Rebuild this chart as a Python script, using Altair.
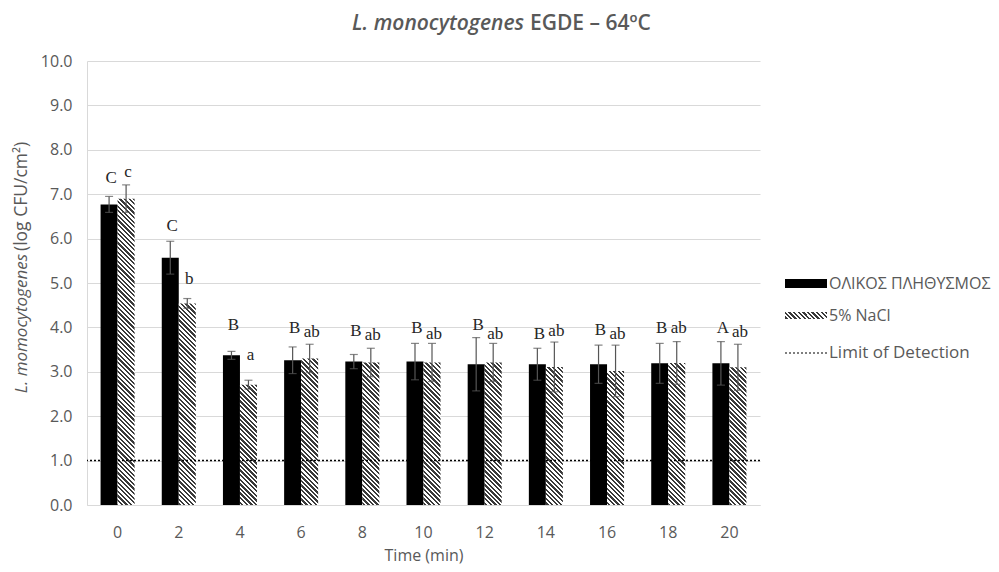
import altair as alt
import pandas as pd

# ---------------- data ----------------
times = [0, 2, 4, 6, 8, 10, 12, 14, 16, 18, 20]
total_mean = [6.77, 5.57, 3.37, 3.26, 3.23, 3.23, 3.17, 3.17, 3.17, 3.19, 3.19]
total_sd = [0.18, 0.37, 0.09, 0.30, 0.16, 0.41, 0.60, 0.36, 0.43, 0.45, 0.49]
nacl_mean = [6.90, 4.54, 2.71, 3.30, 3.21, 3.21, 3.21, 3.11, 3.02, 3.20, 3.10]
nacl_sd = [0.31, 0.11, 0.10, 0.32, 0.32, 0.43, 0.43, 0.56, 0.58, 0.48, 0.52]
total_letters = ["C", "C", "B", "B", "B", "B", "B", "B", "B", "B", "A"]
nacl_letters = ["c", "b", "a", "ab", "ab", "ab", "ab", "ab", "ab", "ab", "ab"]
total_label_y = [7.36, 6.28, 4.05, 3.99, 3.92, 3.98, 4.05, 3.86, 3.95, 3.99, 3.99]
nacl_label_y = [7.49, 5.08, 3.38, 3.89, 3.83, 3.86, 3.86, 3.92, 3.86, 3.98, 3.89]
lod_value = [1.0]
series_names = ["ΟΛΙΚΟΣ ΠΛΗΘΥΣΜΟΣ", "5% NaCl", "Limit of Detection"]

# ---------------- layout ----------------
W, H = 673, 444
Y_MAX = 10.0
P_IN, P_OUT = 0.444, 0.222
FONT = "Open Sans"
GREY = "#595959"
GRID = "#d9d9d9"

rows = []
for i, t in enumerate(times):
    rows.append(dict(time=t, series="total", mean=total_mean[i],
                     lo=total_mean[i] - total_sd[i], hi=total_mean[i] + total_sd[i],
                     letter=total_letters[i], ly=total_label_y[i]))
    rows.append(dict(time=t, series="nacl", mean=nacl_mean[i],
                     lo=nacl_mean[i] - nacl_sd[i], hi=nacl_mean[i] + nacl_sd[i],
                     letter=nacl_letters[i], ly=nacl_label_y[i]))
df = pd.DataFrame(rows)

step = W / len(times)
sub_w = step * (1 - P_IN) / 2


def hatch(w, h, period=4.6, dark="#3a3a3a", light="#ffffff"):
    """Diagonal '\\' stripes via a sharp-stop linear gradient (bbox units)."""
    L = w + h
    k = L / (w * w + h * h)
    x1, y1 = 1.0, 0.0
    x2, y2 = 1 - k * w, k * h
    n = int(L / period) + 1
    stops = []
    for j in range(n):
        a = min(j * period / L, 1.0)
        b = min((j + 0.5) * period / L, 1.0)
        c = min((j + 1) * period / L, 1.0)
        stops += [
            {"offset": a, "color": dark},
            {"offset": b, "color": dark},
            {"offset": b, "color": light},
            {"offset": c, "color": light},
        ]
    return alt.LinearGradient(gradient="linear", stops=stops, x1=x1, y1=y1, x2=x2, y2=y2)


x_enc = alt.X(
    "time:O",
    scale=alt.Scale(paddingInner=P_IN, paddingOuter=P_OUT),
    axis=alt.Axis(title="Time (min)", labelAngle=0, ticks=False, grid=False,
                  domainColor=GRID, labelPadding=19, titleY=50, titleBaseline="middle",
                  titleFontWeight="normal"),
)
xo_enc = alt.XOffset("series:N",
                     scale=alt.Scale(domain=["total", "nacl"], paddingInner=0, paddingOuter=0))
y_scale = alt.Scale(domain=[0, Y_MAX], nice=False)
y_enc = alt.Y("mean:Q", scale=y_scale,
              axis=alt.Axis(values=list(range(11)), format=".1f", title="", ticks=False,
                            grid=True, gridColor=GRID, domainColor=GRID, labelPadding=15))

layers = []

# black bars
layers.append(
    alt.Chart(df[df.series == "total"]).mark_bar(color="black").encode(
        x=x_enc, xOffset=xo_enc, y=y_enc)
)

# hatched bars (one layer each so the stripe pitch stays constant)
for i, t in enumerate(times):
    h = nacl_mean[i] / Y_MAX * H
    layers.append(
        alt.Chart(df[(df.series == "nacl") & (df.time == t)]).mark_bar(fill=hatch(sub_w, h)).encode(
            x=x_enc, xOffset=xo_enc, y=alt.Y("mean:Q", scale=y_scale))
    )

# limit of detection
layers.append(
    alt.Chart(pd.DataFrame({"lod": lod_value})).mark_rule(
        color="black", strokeDash=[2, 2], strokeWidth=1.5).encode(
        y=alt.Y("lod:Q", scale=y_scale))
)

# error bars
ERR = "#555555"
layers.append(
    alt.Chart(df).mark_rule(color=ERR, strokeWidth=1.2).encode(
        x=x_enc, xOffset=xo_enc, y=alt.Y("lo:Q", scale=y_scale), y2="hi:Q")
)
for col in ["lo", "hi"]:
    layers.append(
        alt.Chart(df).mark_tick(color=ERR, size=8, thickness=1.2, orient="horizontal").encode(
            x=x_enc, xOffset=xo_enc, y=alt.Y(f"{col}:Q", scale=y_scale))
    )

# significance letters
layers.append(
    alt.Chart(df).mark_text(font="Liberation Serif", fontSize=17, color="#262626",
                            baseline="middle", dx=2).encode(
        x=x_enc, xOffset=xo_enc, y=alt.Y("ly:Q", scale=y_scale), text="letter:N")
)

one = alt.Data(values=[{}])

# chart title (mixed italic / roman)
layers.append(alt.Chart(one).mark_text(text="L. monocytogenes", font=FONT, fontSize=21,
                                       fontStyle="italic", fontWeight=600, color=GREY,
                                       align="right", baseline="middle").encode(
    x=alt.value(437), y=alt.value(-37)))
layers.append(alt.Chart(one).mark_text(text="EGDE – 64ºC", font=FONT, fontSize=21,
                                       fontWeight=600, color=GREY,
                                       align="left", baseline="middle").encode(
    x=alt.value(443), y=alt.value(-37)))

# y-axis title (mixed italic / roman, rotated)
layers.append(alt.Chart(one).mark_text(text="L. momocytogenes", font=FONT, fontSize=17,
                                       fontStyle="italic", color=GREY, angle=270,
                                       align="right", baseline="middle").encode(
    x=alt.value(-65), y=alt.value(193)))
layers.append(alt.Chart(one).mark_text(text=" (log CFU/cm²)", font=FONT, fontSize=17.5,
                                       color=GREY, angle=270,
                                       align="left", baseline="middle").encode(
    x=alt.value(-65), y=alt.value(190)))

# legend
LX0, LX1, TX = 698, 740, 742
layers.append(alt.Chart(one).mark_rect(color="black").encode(
    x=alt.value(LX0), x2=alt.value(LX1), y=alt.value(218), y2=alt.value(227)))
layers.append(alt.Chart(one).mark_rect(fill=hatch(LX1 - LX0, 7)).encode(
    x=alt.value(LX0), x2=alt.value(LX1), y=alt.value(251), y2=alt.value(258)))
layers.append(alt.Chart(one).mark_rule(color="black", strokeDash=[2, 2], strokeWidth=1.2).encode(
    x=alt.value(LX0), x2=alt.value(LX1), y=alt.value(292)))
for name, yy, fs in zip(series_names, [223, 254.5, 292], [16, 16, 17]):
    layers.append(alt.Chart(one).mark_text(text=name, font=FONT, fontSize=fs, color=GREY,
                                           align="left", baseline="middle").encode(
        x=alt.value(TX), y=alt.value(yy)))

chart = alt.layer(*layers).properties(
    width=W, height=H,
    padding={"left": 79, "top": 53, "right": 231, "bottom": 59},
    autosize=alt.AutoSizeParams(type="none"),
).configure_view(stroke="transparent").configure_axis(
    labelFont=FONT, labelFontSize=16, labelColor=GREY,
    titleFont=FONT, titleFontSize=16, titleColor=GREY,
)

chart.save("out.html", embed_options={"renderer": "svg", "actions": False})
